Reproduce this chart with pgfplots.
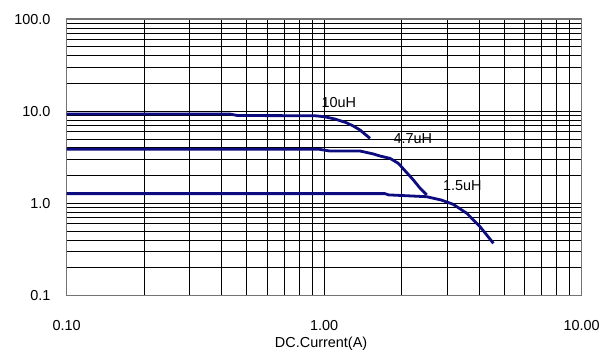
\documentclass[border=0pt]{standalone}
\usepackage{pgfplots}
\pgfplotsset{compat=1.18}
\usepackage{fontspec}
\setmainfont{Liberation Sans}
\definecolor{curve}{RGB}{12,12,128}
\begin{document}
\begin{tikzpicture}
\useasboundingbox (-66.7bp,-65.3bp) rectangle (542.3bp,295.7bp);
\begin{loglogaxis}[
  scale only axis,
  width=515bp, height=276.6bp,
  xmin=0.1, xmax=10, ymin=0.1, ymax=100,
  xtick={0.1,1,10}, xticklabels={0.10,1.00,10.00},
  ytick={0.1,1,10,100}, yticklabels={0.1,1.0,10.0,100.0},
  grid=both,
  major grid style={black, line width=1bp},
  minor grid style={black, line width=1bp},
  major tick length=0pt, minor tick length=0pt,
  axis line style={black!55, line width=1.3bp},
  /pgf/number format/assume math mode=true,
  tick label style={font=\fontsize{14.5}{16}\selectfont, inner sep=0pt},
  xticklabel style={anchor=center, yshift=-30bp},
  yticklabel style={anchor=east, xshift=-16bp},
  xlabel={DC.Current(A)},
  xlabel style={font=\fontsize{14.5}{16}\selectfont, inner sep=0pt, anchor=center, at={(axis description cs:0.494,0)}, yshift=-48bp},
]
\addplot[curve, line width=2.8bp, no marks, line join=round] coordinates {
(0.1,9.35) (0.43,9.35) (0.46,9.0) (0.92,8.95) (1.0,8.74) (1.1,8.25) (1.22,7.52) (1.3,6.9) (1.377,6.27) (1.506,5.09)
};
\addplot[curve, line width=2.8bp, no marks, line join=round] coordinates {
(0.1,3.87) (0.96,3.87) (1.05,3.71) (1.377,3.71) (1.55,3.45) (1.65,3.27) (1.80,3.09) (1.94,2.73) (2.08,2.2) (2.22,1.80) (2.35,1.48) (2.50,1.24)
};
\addplot[curve, line width=2.8bp, no marks, line join=round] coordinates {
(0.1,1.28) (1.72,1.28) (1.78,1.24) (2.50,1.185) (2.85,1.09) (3.17,0.98) (3.58,0.783) (4.03,0.56) (4.54,0.37)
};
\node[font=\fontsize{14.5}{16}\selectfont, inner sep=0pt] at (axis cs:1.14,12.6) {10uH};
\node[font=\fontsize{14.5}{16}\selectfont, inner sep=0pt] at (axis cs:2.21,5.0) {4.7uH};
\node[font=\fontsize{14.5}{16}\selectfont, inner sep=0pt] at (axis cs:3.44,1.55) {1.5uH};
\end{loglogaxis}
\end{tikzpicture}
\end{document}
